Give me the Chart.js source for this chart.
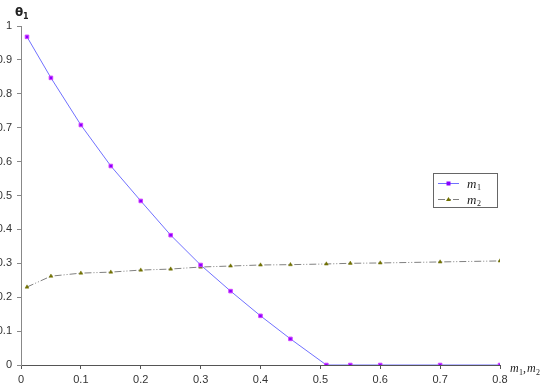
<!DOCTYPE html>
<html>
<head>
<meta charset="utf-8">
<script src="https://cdn.jsdelivr.net/npm/chart.js@4/dist/chart.umd.min.js"></script>
<style>
  html, body { margin: 0; padding: 0; background: #fff; }
  #wrap { width: 540px; height: 389px; position: relative; }
</style>
</head>
<body>
<div id="wrap"><canvas id="chart"></canvas></div>
<script>
/* ---------------- DATA ---------------- */
const m1X = [0.01, 0.05, 0.1, 0.15, 0.2, 0.25, 0.3, 0.35, 0.4, 0.45, 0.51, 0.55, 0.6, 0.7, 0.8];
const m1Y = [0.968, 0.847, 0.708, 0.587, 0.484, 0.383, 0.295, 0.218, 0.145, 0.077, 0, 0, 0, 0, 0];
const m2X = [0.01, 0.05, 0.1, 0.15, 0.2, 0.25, 0.3, 0.35, 0.4, 0.45, 0.51, 0.55, 0.6, 0.7, 0.8];
const m2Y = [0.23, 0.262, 0.271, 0.274, 0.28, 0.283, 0.289, 0.292, 0.295, 0.296, 0.298, 0.3, 0.301, 0.304, 0.307];
const seriesNames = ["m", "m"];
const seriesSubs = ["1", "2"];

const toPoints = (xs, ys) => xs.map((x, i) => ({ x: x, y: ys[i] }));

/* ---------------- EXTRA TEXT + LEGEND ---------------- */
const annotations = {
  id: "annotations",
  afterDraw(chart) {
    const ctx = chart.ctx;
    const area = chart.chartArea;
    ctx.save();
    ctx.fillStyle = "#222";

    // y axis title
    ctx.font = "bold 12px 'DejaVu Sans'";
    ctx.textBaseline = "alphabetic";
    ctx.fillText("θ", 15, 16);
    ctx.font = "bold 8px 'DejaVu Sans'";
    ctx.fillText("1", 23, 19);

    // x axis title
    const ax = area.right + 10;
    const ay = area.bottom + 7;
    ctx.font = "italic 12px 'Liberation Serif'";
    ctx.fillText("m", ax, ay);
    ctx.font = "8px 'Liberation Serif'";
    ctx.fillText("1", ax + 9, ay + 3);
    ctx.font = "12px 'Liberation Serif'";
    ctx.fillText(",", ax + 13, ay);
    ctx.font = "italic 12px 'Liberation Serif'";
    ctx.fillText("m", ax + 17, ay);
    ctx.font = "8px 'Liberation Serif'";
    ctx.fillText("2", ax + 26, ay + 3);

    // legend box
    const lx = 433, ly = 173, lw = 64, lh = 34;
    ctx.fillStyle = "#fff";
    ctx.fillRect(lx, ly, lw, lh);
    ctx.strokeStyle = "#666";
    ctx.lineWidth = 1;
    ctx.strokeRect(lx + 0.5, ly + 0.5, lw, lh);

    chart.data.datasets.forEach((ds, i) => {
      const y = ly + 10 + i * 16 + 0.5;
      ctx.strokeStyle = ds.borderColor;
      ctx.setLineDash(ds.borderDash || []);
      ctx.beginPath();
      ctx.moveTo(lx + 5, y);
      ctx.lineTo(lx + 26, y);
      ctx.stroke();
      ctx.setLineDash([]);
      ctx.fillStyle = ds.pointBackgroundColor;
      if (i === 0) {
        ctx.fillRect(lx + 13.5, y - 2, 4, 4);
      } else {
        ctx.beginPath();
        ctx.moveTo(lx + 15.5, y - 2.5);
        ctx.lineTo(lx + 18, y + 1.5);
        ctx.lineTo(lx + 13, y + 1.5);
        ctx.closePath();
        ctx.fill();
      }
      ctx.fillStyle = "#222";
      ctx.font = "italic 13px 'Liberation Serif'";
      ctx.fillText(seriesNames[i], lx + 34, y + 4);
      ctx.font = "8px 'Liberation Serif'";
      ctx.fillText(seriesSubs[i], lx + 44, y + 6);
    });
    ctx.restore();
  }
};

/* ---------------- CHART ---------------- */
new Chart(document.getElementById("chart"), {
  type: "scatter",
  data: {
    datasets: [
      {
        label: "m1",
        data: toPoints(m1X, m1Y),
        showLine: true,
        borderColor: "#7070ff",
        borderWidth: 1,
        pointStyle: "rect",
        pointRadius: 2.5,
        pointBackgroundColor: "#8a00ff",
        pointBorderColor: "#d040ff",
        pointBorderWidth: 1
      },
      {
        label: "m2",
        data: toPoints(m2X, m2Y),
        showLine: true,
        borderColor: "#808080",
        borderWidth: 1,
        borderDash: [7, 2, 1, 2, 1, 2],
        pointStyle: "triangle",
        pointRadius: 2.2,
        pointBackgroundColor: "#707000",
        pointBorderColor: "#707000",
        pointBorderWidth: 0.5
      }
    ]
  },
  options: {
    responsive: true,
    maintainAspectRatio: false,
    animation: false,
    layout: { padding: { top: 26, right: 40, left: 0, bottom: 0 } },
    plugins: {
      legend: { display: false },
      tooltip: { enabled: false }
    },
    scales: {
      x: {
        type: "linear",
        min: 0,
        max: 0.8,
        ticks: {
          stepSize: 0.1,
          color: "#333",
          font: { family: "'Liberation Sans'", size: 11 },
          padding: 4,
          maxRotation: 0,
          callback: (v) => +v.toFixed(1)
        },
        grid: { drawOnChartArea: false, drawTicks: true, tickLength: 4, color: "#555" },
        border: { color: "#555", width: 1 },
        afterFit: (s) => { s.height = 24; }
      },
      y: {
        min: 0,
        max: 1,
        ticks: {
          stepSize: 0.1,
          color: "#333",
          font: { family: "'Liberation Sans'", size: 11 },
          padding: 5,
          callback: (v) => +v.toFixed(1)
        },
        grid: { drawOnChartArea: false, drawTicks: true, tickLength: 4, color: "#888" },
        border: { color: "#888", width: 1 },
        afterFit: (s) => { s.width = 21; }
      }
    }
  },
  plugins: [annotations]
});
</script>
</body>
</html>
